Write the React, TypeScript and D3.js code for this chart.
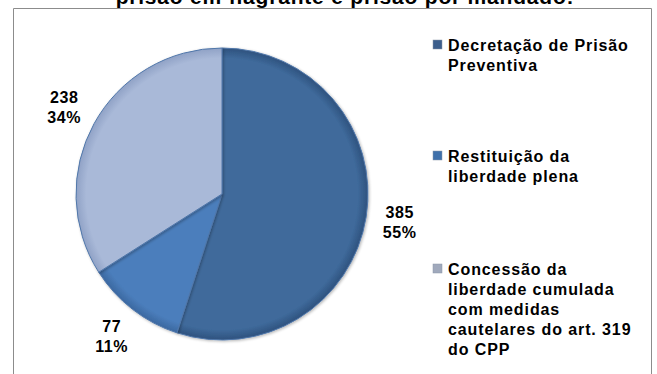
import React from "react";
import * as d3 from "d3";

const categories = [
  "Decretação de Prisão Preventiva",
  "Restituição da liberdade plena",
  "Concessão da liberdade cumulada com medidas cautelares do art. 319 do CPP",
];
const values = [385, 77, 238];
const percents = ["55%", "11%", "34%"];
const legendLines = [
  ["Decretação de Prisão", "Preventiva"],
  ["Restituição da", "liberdade plena"],
  ["Concessão da", "liberdade cumulada", "com medidas", "cautelares do art. 319", "do CPP"],
];
const title = "prisão em flagrante e prisão por mandado:";

const sliceColors = ["#3F6A9B", "#4B7EBC", "#A9B9D8"];
const sliceEdge = ["#2E527E", "#3B68A0", "#90A2C6"];
const markerColors = ["#3C5E8C", "#3F70AA", "#A0A9BC"];

export default function App() {
  const W = 657, H = 374;
  const cx = 222, cy = 194, R = 146;
  const pie = d3.pie<number>().sort(null).startAngle(0).endAngle(2 * Math.PI);
  const arcs = pie(values);
  const arc = d3.arc<d3.PieArcDatum<number>>().innerRadius(0).outerRadius(R);
  const labelArc = d3.arc<d3.PieArcDatum<number>>().innerRadius(180).outerRadius(180);
  const font = "'Liberation Sans', Arial, sans-serif";
  const legendStarts = [51, 162, 275];

  return (
    <svg width={W} height={H} style={{ position: "absolute", left: 0, top: 0 }} fontFamily={font}>
      <defs>
        {sliceColors.map((c, i) => (
          <radialGradient key={i} id={`g${i}`} cx={0} cy={0} r={R} gradientUnits="userSpaceOnUse">
            <stop offset="0%" stopColor={c} />
            <stop offset="93%" stopColor={c} />
            <stop offset="100%" stopColor={sliceEdge[i]} />
          </radialGradient>
        ))}
        <filter id="sh" x="-20%" y="-20%" width="140%" height="140%">
          <feGaussianBlur in="SourceAlpha" stdDeviation="1.5" />
          <feOffset dx="1" dy="1" result="b" />
          <feComponentTransfer><feFuncA type="linear" slope="0.3" /></feComponentTransfer>
          <feMerge><feMergeNode /><feMergeNode in="SourceGraphic" /></feMerge>
        </filter>
      </defs>
      <rect x={0} y={0} width={W} height={H} fill="#fff" />
      <text x={345} y={4} textAnchor="middle" fontSize={21} fontWeight="bold" fill="#000" letterSpacing={0.8}>{title}</text>
      <path d={`M13.5,${H + 2}V8.5H651.5V${H + 2}`} fill="none" stroke="#8c8c8c" strokeWidth={1} />
      <g transform={`translate(${cx},${cy})`}>
        {arcs.map((a, i) => (
          <path key={i} d={arc(a) || ""} fill={`url(#g${i})`} stroke="#5077AA" strokeWidth={1} filter="url(#sh)" />
        ))}
        {arcs.map((a, i) => {
          const [x, y] = labelArc.centroid(a);
          return (
            <text key={`l${i}`} x={x} y={y} textAnchor="middle" fontSize={16} fontWeight="bold" fill="#000" letterSpacing={0.6}>
              <tspan x={x} dy={-4}>{values[i]}</tspan>
              <tspan x={x} dy={20}>{percents[i]}</tspan>
            </text>
          );
        })}
      </g>
      <g>
        {legendLines.map((lines, i) => (
          <g key={i}>
            <title>{categories[i]}</title>
            <rect x={433} y={legendStarts[i] - 11} width={9} height={9} fill={markerColors[i]} stroke="#8a96a8" strokeWidth={0.5} />
            <text x={448} y={legendStarts[i]} fontSize={16} fontWeight="bold" fill="#000" letterSpacing={0.9}>
              {lines.map((l, j) => (
                <tspan key={j} x={448} y={legendStarts[i] + j * 20}>{l}</tspan>
              ))}
            </text>
          </g>
        ))}
      </g>
    </svg>
  );
}
